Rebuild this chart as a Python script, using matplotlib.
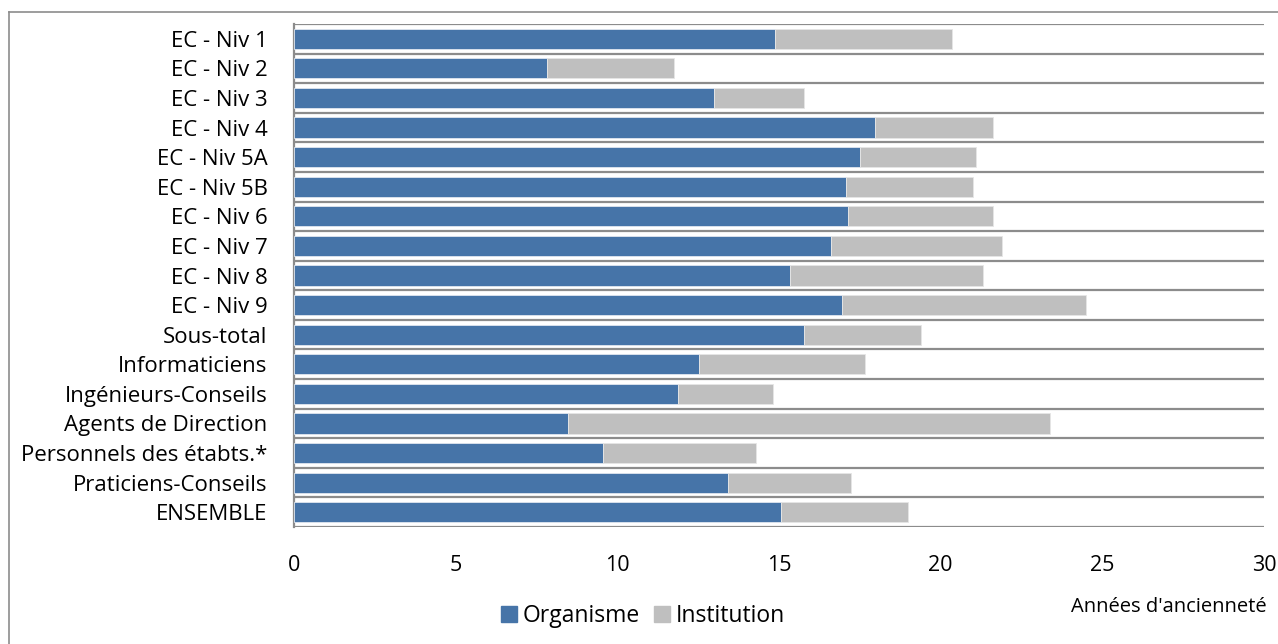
import matplotlib.pyplot as plt
import numpy as np
from matplotlib.lines import Line2D

# --- Data (years of seniority) ---
categories = ['EC - Niv 1', 'EC - Niv 2', 'EC - Niv 3', 'EC - Niv 4', 'EC - Niv 5A',
              'EC - Niv 5B', 'EC - Niv 6', 'EC - Niv 7', 'EC - Niv 8', 'EC - Niv 9',
              'Sous-total', 'Informaticiens', 'Ingénieurs-Conseils', 'Agents de Direction',
              'Personnels des étabts.*', 'Praticiens-Conseils', 'ENSEMBLE']
organisme = [14.87, 7.83, 12.99, 17.97, 17.51, 17.08, 17.14, 16.61, 15.35, 16.94,
             15.77, 12.53, 11.89, 8.48, 9.55, 13.43, 15.06]
institution = [5.48, 3.92, 2.79, 3.66, 3.58, 3.93, 4.49, 5.28, 5.97, 7.55,
               3.63, 5.12, 2.93, 14.91, 4.74, 3.80, 3.92]
xticks = [0, 5, 10, 15, 20, 25, 30]

plt.rcParams['font.family'] = ['Open Sans', 'DejaVu Sans']

W, H = 1278, 644
fig = plt.figure(figsize=(W / 100, H / 100), dpi=100)
ax = fig.add_axes([294 / W, 1 - 527 / H, (1264 - 294) / W, (527 - 24) / H])

y = np.arange(len(categories))
blue = '#4674A8'
grey = '#BFBFBF'
ax.barh(y, organisme, height=0.68, color=blue, edgecolor='#dfe6ef', linewidth=0.6,
        label='Organisme', zorder=3)
ax.barh(y, institution, left=organisme, height=0.68, color=grey, edgecolor='#e6e6e6',
        linewidth=0.6, label='Institution', zorder=3)

ax.set_xlim(0, 30)
ax.set_ylim(len(categories) - 0.5, -0.5)
ax.set_xticks(xticks)
ax.set_xticklabels([str(t) for t in xticks], fontsize=15.5)
ax.set_yticks(y)
ax.set_yticklabels(categories, fontsize=16)
ax.set_yticks(np.arange(len(categories) + 1) - 0.5, minor=True)
ax.grid(True, axis='y', which='minor', color='#8c8c8c', linewidth=1.6, zorder=1)
ax.grid(False, axis='y', which='major')
ax.tick_params(axis='y', which='both', length=0, pad=19)
ax.tick_params(axis='x', length=0, pad=20)
for s in ['top', 'right', 'bottom']:
    ax.spines[s].set_visible(False)
ax.spines['left'].set_color('#8c8c8c')
ax.spines['left'].set_linewidth(1.6)

# legend
handles = [plt.Rectangle((0, 0), 1, 1, color=blue), plt.Rectangle((0, 0), 1, 1, color=grey)]
fig.legend(handles, ['Organisme', 'Institution'], loc='center', bbox_to_anchor=(643 / W, 1 - 616 / H),
           ncol=2, frameon=False, fontsize=16.5, handlelength=0.7, handleheight=0.7,
           handletextpad=0.25, columnspacing=0.6)

fig.text(1169 / W, 1 - 607 / H, "Années d'ancienneté", fontsize=14.5, ha='center', va='center')

# outer chart border
fig.add_artist(Line2D([9 / W, 9 / W], [1 - 12 / H, 0], color='#8c8c8c', linewidth=1.2))
fig.add_artist(Line2D([9 / W, 1], [1 - 12 / H, 1 - 12 / H], color='#8c8c8c', linewidth=1.2))

fig.savefig('out.png', dpi=100)
